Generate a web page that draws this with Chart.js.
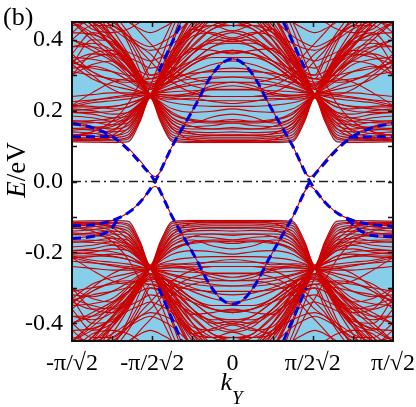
<!DOCTYPE html>
<html><head><meta charset="utf-8">
<script src="https://cdn.jsdelivr.net/npm/chart.js@4.4.1/dist/chart.umd.min.js"></script>
<style>html,body{margin:0;padding:0;background:#fff;overflow:hidden}</style>
</head><body><canvas id="c" width="416" height="407"></canvas>
<script>
// ---- axes ----
const xTickVals = [-4, -2, 0, 2, 4];
const xTickLabels = ['-π/√2', '-π/2√2', '0', 'π/2√2', 'π/√2'];
const xMinorVals = [-3, -2, -1, 0, 1, 2, 3];
const yTickVals = [-0.4, -0.2, 0, 0.2, 0.4];
const yTickLabels = ['-0.4', '-0.2', '0.0', '0.2', '0.4'];
const yMinorVals = [-0.4, -0.3, -0.2, -0.1, 0, 0.1, 0.2, 0.3, 0.4];

// ---- k grid for bulk bands (units: pi/(4*sqrt2)) ----
const kGrid = [-4,-3.5,-3,-2.6,-2.3,-2.05,-1.8,-1.5,-1,-0.5,0,0.5,1,1.5,1.8,2.05,2.3,2.6,3,3.5,4];

// ---- upper bulk bands (E in eV) ----
const up01 = [.112,.111,.110,.112,.170,.236,.170,.113,.110,.110,.110,.110,.110,.113,.170,.236,.170,.112,.110,.111,.112];
const up02 = [.125,.122,.118,.125,.180,.240,.180,.125,.118,.116,.116,.116,.118,.125,.180,.240,.180,.125,.118,.122,.125];
const up03 = [.140,.136,.130,.140,.190,.243,.190,.140,.128,.125,.125,.125,.128,.140,.190,.243,.190,.140,.130,.136,.140];
const up04 = [.160,.155,.148,.158,.200,.245,.200,.155,.140,.138,.140,.138,.140,.155,.200,.245,.200,.158,.148,.155,.160];
const up05 = [.185,.180,.170,.175,.210,.246,.210,.172,.155,.158,.165,.158,.155,.172,.210,.246,.210,.175,.170,.180,.185];
const up06 = [.205,.200,.190,.195,.222,.247,.215,.180,.165,.182,.190,.182,.165,.180,.215,.247,.222,.195,.190,.200,.205];
const up07 = [.215,.212,.205,.210,.230,.247,.235,.232,.235,.226,.220,.226,.235,.232,.235,.247,.230,.210,.205,.212,.215];
const up08 = [.210,.222,.228,.233,.240,.247,.245,.243,.241,.240,.240,.240,.241,.243,.245,.247,.240,.233,.228,.222,.210];
const up09 = [.215,.228,.238,.244,.247,.248,.250,.253,.256,.258,.258,.258,.256,.253,.250,.248,.247,.244,.238,.228,.215];
const up10 = [.60,.50,.41,.34,.285,.245,.20,.150,.118,.114,.113,.114,.118,.150,.20,.245,.285,.34,.41,.50,.60];
const up11 = [.52,.45,.38,.325,.28,.245,.205,.165,.135,.13,.13,.13,.135,.165,.205,.245,.28,.325,.38,.45,.52];
const up12 = [.45,.41,.36,.31,.275,.245,.215,.18,.155,.148,.148,.148,.155,.18,.215,.245,.275,.31,.36,.41,.45];
const up13 = [.40,.38,.345,.30,.27,.245,.22,.195,.172,.168,.17,.168,.172,.195,.22,.245,.27,.30,.345,.38,.40];
const up14 = [.35,.345,.33,.295,.265,.245,.225,.205,.195,.198,.205,.198,.195,.205,.225,.245,.265,.295,.33,.345,.35];
const up15 = [.32,.325,.31,.285,.262,.245,.232,.222,.215,.212,.212,.212,.215,.222,.232,.245,.262,.285,.31,.325,.32];
const up16 = [.118,.12,.13,.165,.205,.245,.29,.36,.47,.56,.59,.56,.47,.36,.29,.245,.205,.165,.13,.12,.118];
const up17 = [.132,.135,.145,.175,.21,.245,.285,.34,.43,.49,.51,.49,.43,.34,.285,.245,.21,.175,.145,.135,.132];
const up18 = [.15,.152,.16,.185,.215,.245,.28,.32,.385,.43,.44,.43,.385,.32,.28,.245,.215,.185,.16,.152,.15];
const up19 = [.17,.172,.178,.195,.22,.245,.272,.305,.36,.395,.405,.395,.36,.305,.272,.245,.22,.195,.178,.172,.17];
const up20 = [.195,.195,.198,.21,.228,.245,.265,.29,.33,.36,.37,.36,.33,.29,.265,.245,.228,.21,.198,.195,.195];
const up21 = [.21,.21,.212,.22,.232,.245,.26,.275,.30,.315,.32,.315,.30,.275,.26,.245,.232,.22,.212,.21,.21];
const up22 = [.65,.56,.47,.39,.31,.245,.31,.40,.55,.65,.68,.65,.55,.40,.31,.245,.31,.39,.47,.56,.65];
const up23 = [.55,.50,.43,.36,.30,.245,.30,.37,.47,.52,.53,.52,.47,.37,.30,.245,.30,.36,.43,.50,.55];
const up24 = [.47,.45,.40,.345,.29,.245,.295,.35,.43,.46,.46,.46,.43,.35,.295,.245,.29,.345,.40,.45,.47];
const up25 = [.42,.415,.385,.335,.285,.245,.29,.345,.43,.44,.425,.44,.43,.345,.29,.245,.285,.335,.385,.415,.42];
const up26 = [.38,.39,.37,.325,.28,.245,.285,.335,.41,.42,.405,.42,.41,.335,.285,.245,.28,.325,.37,.39,.38];
const up27 = [.34,.36,.355,.315,.275,.245,.28,.32,.375,.37,.36,.37,.375,.32,.28,.245,.275,.315,.355,.36,.34];
const up28 = [.36,.42,.40,.35,.295,.245,.30,.36,.45,.50,.50,.50,.45,.36,.30,.245,.295,.35,.40,.42,.36];
const up29 = [.33,.40,.395,.345,.29,.245,.295,.355,.44,.48,.49,.48,.44,.355,.295,.245,.29,.345,.395,.40,.33];
const up30 = [.225,.23,.235,.24,.243,.246,.255,.265,.28,.29,.295,.29,.28,.265,.255,.246,.243,.24,.235,.23,.225];
const up31 = [.33,.29,.27,.26,.252,.246,.24,.235,.23,.228,.228,.228,.23,.235,.24,.246,.252,.26,.27,.29,.33];
const up32 = [.215,.25,.28,.29,.275,.245,.22,.19,.17,.165,.165,.165,.17,.19,.22,.245,.275,.29,.28,.25,.215];
const up33 = [.45,.40,.35,.31,.28,.26,.27,.29,.33,.36,.37,.36,.33,.29,.27,.26,.28,.31,.35,.40,.45];
const up34 = [.50,.44,.38,.33,.295,.275,.28,.30,.34,.38,.39,.38,.34,.30,.28,.275,.295,.33,.38,.44,.50];
const up35 = [.40,.37,.34,.31,.29,.28,.29,.31,.36,.40,.42,.40,.36,.31,.29,.28,.29,.31,.34,.37,.40];
const up36 = [.38,.38,.36,.33,.31,.30,.31,.33,.38,.43,.45,.43,.38,.33,.31,.30,.31,.33,.36,.38,.38];
const up37 = [.33,.35,.36,.35,.335,.32,.325,.34,.37,.39,.39,.39,.37,.34,.325,.32,.335,.35,.36,.35,.33];
const up38 = [.56,.48,.40,.335,.285,.245,.27,.31,.40,.47,.50,.47,.40,.31,.27,.245,.285,.335,.40,.48,.56];
const up39 = [.48,.44,.385,.33,.283,.245,.265,.295,.36,.41,.425,.41,.36,.295,.265,.245,.283,.33,.385,.44,.48];
const up40 = [.30,.33,.34,.31,.275,.245,.262,.285,.33,.35,.35,.35,.33,.285,.262,.245,.275,.31,.34,.33,.30];
const up41 = [.12,.125,.14,.18,.22,.245,.30,.39,.52,.60,.62,.60,.52,.39,.30,.245,.22,.18,.14,.125,.12];
const up42 = [.145,.148,.155,.18,.213,.245,.275,.315,.37,.40,.395,.40,.37,.315,.275,.245,.213,.18,.155,.148,.145];
const up43 = [.165,.166,.17,.19,.218,.245,.282,.33,.40,.44,.455,.44,.40,.33,.282,.245,.218,.19,.17,.166,.165];
const up44 = [.30,.36,.37,.34,.30,.27,.28,.30,.34,.38,.40,.38,.34,.30,.28,.27,.30,.34,.37,.36,.30];
const up45 = [.40,.44,.44,.40,.34,.29,.30,.33,.40,.46,.48,.46,.40,.33,.30,.29,.34,.40,.44,.44,.40];
const up46 = [.42,.46,.45,.41,.355,.30,.305,.34,.42,.47,.50,.47,.42,.34,.305,.30,.355,.41,.45,.46,.42];
const up47 = [.118,.116,.115,.12,.175,.238,.175,.118,.113,.112,.112,.112,.113,.118,.175,.238,.175,.12,.115,.116,.118];
const up48 = [.132,.128,.124,.132,.185,.241,.185,.132,.123,.12,.12,.12,.123,.132,.185,.241,.185,.132,.124,.128,.132];
const up49 = [.15,.145,.14,.148,.195,.244,.195,.148,.134,.131,.132,.131,.134,.148,.195,.244,.195,.148,.14,.145,.15];
const up50 = [.172,.168,.16,.166,.205,.245,.205,.163,.148,.148,.152,.148,.148,.163,.205,.245,.205,.166,.16,.168,.172];
const up51 = [.195,.19,.18,.185,.215,.246,.22,.19,.175,.17,.175,.17,.175,.19,.22,.246,.215,.185,.18,.19,.195];
const up52 = [.50,.47,.41,.35,.295,.26,.30,.37,.46,.45,.44,.45,.46,.37,.30,.26,.295,.35,.41,.47,.50];
const up53 = [.46,.45,.41,.355,.30,.265,.30,.36,.43,.415,.40,.415,.43,.36,.30,.265,.30,.355,.41,.45,.46];
const up54 = [.2,.205,.21,.22,.232,.245,.24,.238,.245,.262,.27,.262,.245,.238,.24,.245,.232,.22,.21,.205,.2];
const up55 = [.34,.31,.285,.268,.255,.248,.245,.243,.25,.27,.28,.27,.25,.243,.245,.248,.255,.268,.285,.31,.34];
const up56 = [.45,.42,.39,.365,.35,.34,.35,.37,.42,.47,.49,.47,.42,.37,.35,.34,.35,.365,.39,.42,.45];
const up57 = [.50,.47,.44,.41,.39,.38,.39,.41,.46,.50,.52,.50,.46,.41,.39,.38,.39,.41,.44,.47,.50];
const up58 = [.55,.52,.48,.45,.43,.42,.43,.45,.50,.55,.58,.55,.50,.45,.43,.42,.43,.45,.48,.52,.55];
const up59 = [.115,.118,.125,.15,.20,.27,.34,.43,.55,.62,.64,.62,.55,.43,.34,.27,.20,.15,.125,.118,.115];
const up60 = [.13,.14,.17,.22,.28,.33,.38,.45,.55,.60,.62,.60,.55,.45,.38,.33,.28,.22,.17,.14,.13];
const up61 = [.62,.55,.48,.42,.37,.34,.31,.28,.25,.24,.24,.24,.25,.28,.31,.34,.37,.42,.48,.55,.62];
const up62 = [.58,.52,.46,.41,.38,.36,.33,.30,.27,.26,.26,.26,.27,.30,.33,.36,.38,.41,.46,.52,.58];
const up63 = [.68,.60,.52,.46,.42,.39,.36,.32,.29,.28,.28,.28,.29,.32,.36,.39,.42,.46,.52,.60,.68];
const up64 = [.36,.31,.285,.28,.285,.29,.30,.315,.34,.36,.365,.36,.34,.315,.30,.29,.285,.28,.285,.31,.36];
const up65 = [.345,.30,.26,.245,.25,.26,.27,.285,.31,.33,.34,.33,.31,.285,.27,.26,.25,.245,.26,.30,.345];
const up66 = [.48,.43,.42,.43,.45,.47,.50,.52,.55,.56,.56,.56,.55,.52,.50,.47,.45,.43,.42,.43,.48];
const up67 = [.44,.45,.43,.40,.38,.37,.375,.39,.42,.44,.44,.44,.42,.39,.375,.37,.38,.40,.43,.45,.44];
const up68 = [.31,.30,.29,.285,.28,.275,.275,.28,.29,.295,.295,.295,.29,.28,.275,.275,.28,.285,.29,.30,.31];
const up69 = [.335,.32,.31,.30,.295,.29,.29,.295,.305,.31,.31,.31,.305,.295,.29,.29,.295,.30,.31,.32,.335];
const up70 = [.24,.245,.25,.25,.249,.248,.252,.262,.272,.278,.28,.278,.272,.262,.252,.248,.249,.25,.25,.245,.24];

// ---- lower bulk bands (E in eV) ----
const dn01 = [-.112,-.111,-.110,-.112,-.170,-.236,-.170,-.113,-.110,-.110,-.110,-.110,-.110,-.113,-.170,-.236,-.170,-.112,-.110,-.111,-.112];
const dn02 = [-.125,-.122,-.118,-.125,-.180,-.240,-.180,-.125,-.118,-.116,-.116,-.116,-.118,-.125,-.180,-.240,-.180,-.125,-.118,-.122,-.125];
const dn03 = [-.140,-.136,-.130,-.140,-.190,-.243,-.190,-.140,-.128,-.125,-.125,-.125,-.128,-.140,-.190,-.243,-.190,-.140,-.130,-.136,-.140];
const dn04 = [-.160,-.155,-.148,-.158,-.200,-.245,-.200,-.155,-.140,-.138,-.140,-.138,-.140,-.155,-.200,-.245,-.200,-.158,-.148,-.155,-.160];
const dn05 = [-.185,-.180,-.170,-.175,-.210,-.246,-.210,-.172,-.155,-.158,-.165,-.158,-.155,-.172,-.210,-.246,-.210,-.175,-.170,-.180,-.185];
const dn06 = [-.205,-.200,-.190,-.195,-.222,-.247,-.215,-.180,-.165,-.182,-.190,-.182,-.165,-.180,-.215,-.247,-.222,-.195,-.190,-.200,-.205];
const dn07 = [-.215,-.212,-.205,-.210,-.230,-.247,-.235,-.232,-.235,-.226,-.220,-.226,-.235,-.232,-.235,-.247,-.230,-.210,-.205,-.212,-.215];
const dn08 = [-.210,-.222,-.228,-.233,-.240,-.247,-.245,-.243,-.241,-.240,-.240,-.240,-.241,-.243,-.245,-.247,-.240,-.233,-.228,-.222,-.210];
const dn09 = [-.215,-.228,-.238,-.244,-.247,-.248,-.250,-.253,-.256,-.258,-.258,-.258,-.256,-.253,-.250,-.248,-.247,-.244,-.238,-.228,-.215];
const dn10 = [-.60,-.50,-.41,-.34,-.285,-.245,-.20,-.150,-.118,-.114,-.113,-.114,-.118,-.150,-.20,-.245,-.285,-.34,-.41,-.50,-.60];
const dn11 = [-.52,-.45,-.38,-.325,-.28,-.245,-.205,-.165,-.135,-.13,-.13,-.13,-.135,-.165,-.205,-.245,-.28,-.325,-.38,-.45,-.52];
const dn12 = [-.45,-.41,-.36,-.31,-.275,-.245,-.215,-.18,-.155,-.148,-.148,-.148,-.155,-.18,-.215,-.245,-.275,-.31,-.36,-.41,-.45];
const dn13 = [-.40,-.38,-.345,-.30,-.27,-.245,-.22,-.195,-.172,-.168,-.17,-.168,-.172,-.195,-.22,-.245,-.27,-.30,-.345,-.38,-.40];
const dn14 = [-.35,-.345,-.33,-.295,-.265,-.245,-.225,-.205,-.195,-.198,-.205,-.198,-.195,-.205,-.225,-.245,-.265,-.295,-.33,-.345,-.35];
const dn15 = [-.32,-.325,-.31,-.285,-.262,-.245,-.232,-.222,-.215,-.212,-.212,-.212,-.215,-.222,-.232,-.245,-.262,-.285,-.31,-.325,-.32];
const dn16 = [-.118,-.12,-.13,-.165,-.205,-.245,-.29,-.36,-.47,-.56,-.59,-.56,-.47,-.36,-.29,-.245,-.205,-.165,-.13,-.12,-.118];
const dn17 = [-.132,-.135,-.145,-.175,-.21,-.245,-.285,-.34,-.43,-.49,-.51,-.49,-.43,-.34,-.285,-.245,-.21,-.175,-.145,-.135,-.132];
const dn18 = [-.15,-.152,-.16,-.185,-.215,-.245,-.28,-.32,-.385,-.43,-.44,-.43,-.385,-.32,-.28,-.245,-.215,-.185,-.16,-.152,-.15];
const dn19 = [-.17,-.172,-.178,-.195,-.22,-.245,-.272,-.305,-.36,-.395,-.405,-.395,-.36,-.305,-.272,-.245,-.22,-.195,-.178,-.172,-.17];
const dn20 = [-.195,-.195,-.198,-.21,-.228,-.245,-.265,-.29,-.33,-.36,-.37,-.36,-.33,-.29,-.265,-.245,-.228,-.21,-.198,-.195,-.195];
const dn21 = [-.21,-.21,-.212,-.22,-.232,-.245,-.26,-.275,-.30,-.315,-.32,-.315,-.30,-.275,-.26,-.245,-.232,-.22,-.212,-.21,-.21];
const dn22 = [-.65,-.56,-.47,-.39,-.31,-.245,-.31,-.40,-.55,-.65,-.68,-.65,-.55,-.40,-.31,-.245,-.31,-.39,-.47,-.56,-.65];
const dn23 = [-.55,-.50,-.43,-.36,-.30,-.245,-.30,-.37,-.47,-.52,-.53,-.52,-.47,-.37,-.30,-.245,-.30,-.36,-.43,-.50,-.55];
const dn24 = [-.47,-.45,-.40,-.345,-.29,-.245,-.295,-.35,-.43,-.46,-.46,-.46,-.43,-.35,-.295,-.245,-.29,-.345,-.40,-.45,-.47];
const dn25 = [-.42,-.415,-.385,-.335,-.285,-.245,-.29,-.345,-.43,-.44,-.425,-.44,-.43,-.345,-.29,-.245,-.285,-.335,-.385,-.415,-.42];
const dn26 = [-.38,-.39,-.37,-.325,-.28,-.245,-.285,-.335,-.41,-.42,-.405,-.42,-.41,-.335,-.285,-.245,-.28,-.325,-.37,-.39,-.38];
const dn27 = [-.34,-.36,-.355,-.315,-.275,-.245,-.28,-.32,-.375,-.37,-.36,-.37,-.375,-.32,-.28,-.245,-.275,-.315,-.355,-.36,-.34];
const dn28 = [-.36,-.42,-.40,-.35,-.295,-.245,-.30,-.36,-.45,-.50,-.50,-.50,-.45,-.36,-.30,-.245,-.295,-.35,-.40,-.42,-.36];
const dn29 = [-.33,-.40,-.395,-.345,-.29,-.245,-.295,-.355,-.44,-.48,-.49,-.48,-.44,-.355,-.295,-.245,-.29,-.345,-.395,-.40,-.33];
const dn30 = [-.225,-.23,-.235,-.24,-.243,-.246,-.255,-.265,-.28,-.29,-.295,-.29,-.28,-.265,-.255,-.246,-.243,-.24,-.235,-.23,-.225];
const dn31 = [-.33,-.29,-.27,-.26,-.252,-.246,-.24,-.235,-.23,-.228,-.228,-.228,-.23,-.235,-.24,-.246,-.252,-.26,-.27,-.29,-.33];
const dn32 = [-.215,-.25,-.28,-.29,-.275,-.245,-.22,-.19,-.17,-.165,-.165,-.165,-.17,-.19,-.22,-.245,-.275,-.29,-.28,-.25,-.215];
const dn33 = [-.45,-.40,-.35,-.31,-.28,-.26,-.27,-.29,-.33,-.36,-.37,-.36,-.33,-.29,-.27,-.26,-.28,-.31,-.35,-.40,-.45];
const dn34 = [-.50,-.44,-.38,-.33,-.295,-.275,-.28,-.30,-.34,-.38,-.39,-.38,-.34,-.30,-.28,-.275,-.295,-.33,-.38,-.44,-.50];
const dn35 = [-.40,-.37,-.34,-.31,-.29,-.28,-.29,-.31,-.36,-.40,-.42,-.40,-.36,-.31,-.29,-.28,-.29,-.31,-.34,-.37,-.40];
const dn36 = [-.38,-.38,-.36,-.33,-.31,-.30,-.31,-.33,-.38,-.43,-.45,-.43,-.38,-.33,-.31,-.30,-.31,-.33,-.36,-.38,-.38];
const dn37 = [-.33,-.35,-.36,-.35,-.335,-.32,-.325,-.34,-.37,-.39,-.39,-.39,-.37,-.34,-.325,-.32,-.335,-.35,-.36,-.35,-.33];
const dn38 = [-.56,-.48,-.40,-.335,-.285,-.245,-.27,-.31,-.40,-.47,-.50,-.47,-.40,-.31,-.27,-.245,-.285,-.335,-.40,-.48,-.56];
const dn39 = [-.48,-.44,-.385,-.33,-.283,-.245,-.265,-.295,-.36,-.41,-.425,-.41,-.36,-.295,-.265,-.245,-.283,-.33,-.385,-.44,-.48];
const dn40 = [-.30,-.33,-.34,-.31,-.275,-.245,-.262,-.285,-.33,-.35,-.35,-.35,-.33,-.285,-.262,-.245,-.275,-.31,-.34,-.33,-.30];
const dn41 = [-.12,-.125,-.14,-.18,-.22,-.245,-.30,-.39,-.52,-.60,-.62,-.60,-.52,-.39,-.30,-.245,-.22,-.18,-.14,-.125,-.12];
const dn42 = [-.145,-.148,-.155,-.18,-.213,-.245,-.275,-.315,-.37,-.40,-.395,-.40,-.37,-.315,-.275,-.245,-.213,-.18,-.155,-.148,-.145];
const dn43 = [-.165,-.166,-.17,-.19,-.218,-.245,-.282,-.33,-.40,-.44,-.455,-.44,-.40,-.33,-.282,-.245,-.218,-.19,-.17,-.166,-.165];
const dn44 = [-.30,-.36,-.37,-.34,-.30,-.27,-.28,-.30,-.34,-.38,-.40,-.38,-.34,-.30,-.28,-.27,-.30,-.34,-.37,-.36,-.30];
const dn45 = [-.40,-.44,-.44,-.40,-.34,-.29,-.30,-.33,-.40,-.46,-.48,-.46,-.40,-.33,-.30,-.29,-.34,-.40,-.44,-.44,-.40];
const dn46 = [-.42,-.46,-.45,-.41,-.355,-.30,-.305,-.34,-.42,-.47,-.50,-.47,-.42,-.34,-.305,-.30,-.355,-.41,-.45,-.46,-.42];
const dn47 = [-.118,-.116,-.115,-.12,-.175,-.238,-.175,-.118,-.113,-.112,-.112,-.112,-.113,-.118,-.175,-.238,-.175,-.12,-.115,-.116,-.118];
const dn48 = [-.132,-.128,-.124,-.132,-.185,-.241,-.185,-.132,-.123,-.12,-.12,-.12,-.123,-.132,-.185,-.241,-.185,-.132,-.124,-.128,-.132];
const dn49 = [-.15,-.145,-.14,-.148,-.195,-.244,-.195,-.148,-.134,-.131,-.132,-.131,-.134,-.148,-.195,-.244,-.195,-.148,-.14,-.145,-.15];
const dn50 = [-.172,-.168,-.16,-.166,-.205,-.245,-.205,-.163,-.148,-.148,-.152,-.148,-.148,-.163,-.205,-.245,-.205,-.166,-.16,-.168,-.172];
const dn51 = [-.195,-.19,-.18,-.185,-.215,-.246,-.22,-.19,-.175,-.17,-.175,-.17,-.175,-.19,-.22,-.246,-.215,-.185,-.18,-.19,-.195];
const dn52 = [-.50,-.47,-.41,-.35,-.295,-.26,-.30,-.37,-.46,-.45,-.44,-.45,-.46,-.37,-.30,-.26,-.295,-.35,-.41,-.47,-.50];
const dn53 = [-.46,-.45,-.41,-.355,-.30,-.265,-.30,-.36,-.43,-.415,-.40,-.415,-.43,-.36,-.30,-.265,-.30,-.355,-.41,-.45,-.46];
const dn54 = [-.2,-.205,-.21,-.22,-.232,-.245,-.24,-.238,-.245,-.262,-.27,-.262,-.245,-.238,-.24,-.245,-.232,-.22,-.21,-.205,-.2];
const dn55 = [-.34,-.31,-.285,-.268,-.255,-.248,-.245,-.243,-.25,-.27,-.28,-.27,-.25,-.243,-.245,-.248,-.255,-.268,-.285,-.31,-.34];
const dn56 = [-.45,-.42,-.39,-.365,-.35,-.34,-.35,-.37,-.42,-.47,-.49,-.47,-.42,-.37,-.35,-.34,-.35,-.365,-.39,-.42,-.45];
const dn57 = [-.50,-.47,-.44,-.41,-.39,-.38,-.39,-.41,-.46,-.50,-.52,-.50,-.46,-.41,-.39,-.38,-.39,-.41,-.44,-.47,-.50];
const dn58 = [-.55,-.52,-.48,-.45,-.43,-.42,-.43,-.45,-.50,-.55,-.58,-.55,-.50,-.45,-.43,-.42,-.43,-.45,-.48,-.52,-.55];
const dn59 = [-.115,-.118,-.125,-.15,-.20,-.27,-.34,-.43,-.55,-.62,-.64,-.62,-.55,-.43,-.34,-.27,-.20,-.15,-.125,-.118,-.115];
const dn60 = [-.13,-.14,-.17,-.22,-.28,-.33,-.38,-.45,-.55,-.60,-.62,-.60,-.55,-.45,-.38,-.33,-.28,-.22,-.17,-.14,-.13];
const dn61 = [-.62,-.55,-.48,-.42,-.37,-.34,-.31,-.28,-.25,-.24,-.24,-.24,-.25,-.28,-.31,-.34,-.37,-.42,-.48,-.55,-.62];
const dn62 = [-.58,-.52,-.46,-.41,-.38,-.36,-.33,-.30,-.27,-.26,-.26,-.26,-.27,-.30,-.33,-.36,-.38,-.41,-.46,-.52,-.58];
const dn63 = [-.68,-.60,-.52,-.46,-.42,-.39,-.36,-.32,-.29,-.28,-.28,-.28,-.29,-.32,-.36,-.39,-.42,-.46,-.52,-.60,-.68];
const dn64 = [-.36,-.31,-.285,-.28,-.285,-.29,-.30,-.315,-.34,-.36,-.365,-.36,-.34,-.315,-.30,-.29,-.285,-.28,-.285,-.31,-.36];
const dn65 = [-.345,-.30,-.26,-.245,-.25,-.26,-.27,-.285,-.31,-.33,-.34,-.33,-.31,-.285,-.27,-.26,-.25,-.245,-.26,-.30,-.345];
const dn66 = [-.48,-.43,-.42,-.43,-.45,-.47,-.50,-.52,-.55,-.56,-.56,-.56,-.55,-.52,-.50,-.47,-.45,-.43,-.42,-.43,-.48];
const dn67 = [-.44,-.45,-.43,-.40,-.38,-.37,-.375,-.39,-.42,-.44,-.44,-.44,-.42,-.39,-.375,-.37,-.38,-.40,-.43,-.45,-.44];
const dn68 = [-.31,-.30,-.29,-.285,-.28,-.275,-.275,-.28,-.29,-.295,-.295,-.295,-.29,-.28,-.275,-.275,-.28,-.285,-.29,-.30,-.31];
const dn69 = [-.335,-.32,-.31,-.30,-.295,-.29,-.29,-.295,-.305,-.31,-.31,-.31,-.305,-.295,-.29,-.29,-.295,-.30,-.31,-.32,-.335];
const dn70 = [-.24,-.245,-.25,-.25,-.249,-.248,-.252,-.262,-.272,-.278,-.28,-.278,-.272,-.262,-.252,-.248,-.249,-.25,-.25,-.245,-.24];

// ---- bulk continuum edges (light-blue regions) ----
const bulkUpperEdge = [.110,.109,.108,.110,.168,.234,.168,.111,.108,.108,.108,.108,.108,.111,.168,.234,.168,.110,.108,.109,.110];
const bulkLowerEdge = [-.110,-.109,-.108,-.110,-.168,-.234,-.168,-.111,-.108,-.108,-.108,-.108,-.108,-.111,-.168,-.234,-.168,-.110,-.108,-.109,-.110];

// ---- edge states ----
const kEdge = [-4,-3.5,-3,-2.6,-2.3,-1.93,-1.5,-1.2,-0.9,-0.6,-0.3,0,0.3,0.6,0.9,1.2,1.5,1.93,2.3,2.6,3,3.5,4];
const edgeA = [.164,.152,.127,.090,.052,0,-.10,-.16,-.22,-.285,-.33,-.346,-.33,-.285,-.22,-.16,-.10,0,.052,.090,.127,.152,.164];
const edgeB = [-.125,-.122,-.11,-.088,-.058,0,.10,.16,.22,.285,.33,.346,.33,.285,.22,.16,.10,0,-.058,-.088,-.11,-.122,-.126];
const redEdgeUp = [.168,.155,.13,.094,.058,.014,.10,.16,.22,.285,.33,.346,.33,.285,.22,.16,.10,.014,.058,.094,.13,.155,.168];
const redEdgeDn = [-.125,-.122,-.11,-.088,-.058,-.014,-.10,-.16,-.22,-.285,-.33,-.346,-.33,-.285,-.22,-.16,-.10,-.014,-.058,-.088,-.11,-.122,-.126];
const kSegUL = [-4,-3.5,-3.05];   const eSegUL = [.126,.126,.128];
const kSegUR = [2.9,3.5,4];       const eSegUR = [.124,.126,.126];
const kSegLL = [-4,-3.4,-3.05,-2.85]; const eSegLL = [-.161,-.153,-.136,-.105];
const kSegLR = [2.85,3.2,3.6,4];  const eSegLR = [-.105,-.14,-.154,-.155];
const kSteepUL = [-1.84,-1.27]; const eSteepUL = [.31,.45];
const kSteepUR = [1.27,1.84];   const eSteepUR = [.45,.31];
const kSteepLL = [-1.84,-1.27]; const eSteepLL = [-.30,-.45];
const kSteepLR = [1.27,1.84];   const eSteepLR = [-.45,-.30];
const kZero = [-4, 4]; const eZero = [0, 0];

// ---- styles ----
const RED = '#cc0000', BLUE = '#0000dd', SKY = '#87ceeb';
const SERIF = '"Liberation Serif", "Times New Roman", Times, serif';

function series(ks, es, color, width, dash, order, extra) {
  return Object.assign({
    data: ks.map((k, i) => ({x: k, y: es[i]})),
    borderColor: color, borderWidth: width, borderDash: dash || [],
    pointRadius: 0, fill: false, cubicInterpolationMode: 'monotone', order: order
  }, extra || {});
}

const upperBands = [up01,up02,up03,up04,up05,up06,up07,up08,up09,up10,up11,up12,up13,up14,up15,up16,up17,up18,up19,up20,
  up21,up22,up23,up24,up25,up26,up27,up28,up29,up30,up31,up32,up33,up34,up35,up36,up37,up38,up39,up40,
  up41,up42,up43,up44,up45,up46,up47,up48,up49,up50,up51,up52,up53,up54,up55,up56,up57,up58,up59,up60,
  up61,up62,up63,up64,up65,up66,up67,up68,up69,up70];
const lowerBands = [dn01,dn02,dn03,dn04,dn05,dn06,dn07,dn08,dn09,dn10,dn11,dn12,dn13,dn14,dn15,dn16,dn17,dn18,dn19,dn20,
  dn21,dn22,dn23,dn24,dn25,dn26,dn27,dn28,dn29,dn30,dn31,dn32,dn33,dn34,dn35,dn36,dn37,dn38,dn39,dn40,
  dn41,dn42,dn43,dn44,dn45,dn46,dn47,dn48,dn49,dn50,dn51,dn52,dn53,dn54,dn55,dn56,dn57,dn58,dn59,dn60,
  dn61,dn62,dn63,dn64,dn65,dn66,dn67,dn68,dn69,dn70];

const datasets = [];
datasets.push(series(kZero, eZero, '#222', 1.5, [9,4,2,4], 0, {cubicInterpolationMode: 'default'}));
const blueDash = [9, 5];
[[kEdge, edgeA], [kEdge, edgeB], [kSegUL, eSegUL], [kSegUR, eSegUR], [kSegLL, eSegLL], [kSegLR, eSegLR],
 [kSteepUL, eSteepUL], [kSteepUR, eSteepUR], [kSteepLL, eSteepLL], [kSteepLR, eSteepLR]]
  .forEach(p => datasets.push(series(p[0], p[1], BLUE, 3, blueDash, 1)));
datasets.push(series(kEdge, redEdgeUp, RED, 1.1, [], 2));
datasets.push(series(kEdge, redEdgeDn, RED, 1.1, [], 2));
upperBands.forEach(b => datasets.push(series(kGrid, b, RED, 1.1, [], 2)));
lowerBands.forEach(b => datasets.push(series(kGrid, b, RED, 1.1, [], 2)));
datasets.push(series(kGrid, bulkUpperEdge, 'rgba(0,0,0,0)', 0, [], 3, {fill: 'end', backgroundColor: SKY}));
datasets.push(series(kGrid, bulkLowerEdge, 'rgba(0,0,0,0)', 0, [], 3, {fill: 'start', backgroundColor: SKY}));

const decor = {
  id: 'decor',
  afterDraw(chart) {
    const ctx = chart.ctx, a = chart.chartArea, x = chart.scales.x, y = chart.scales.y;
    ctx.save();
    ctx.strokeStyle = '#111'; ctx.lineWidth = 1.5; ctx.setLineDash([]);
    xMinorVals.forEach(v => {
      const px = Math.round(x.getPixelForValue(v)) + 0.5;
      ctx.beginPath(); ctx.moveTo(px, a.bottom); ctx.lineTo(px, a.bottom - 5);
      ctx.moveTo(px, a.top); ctx.lineTo(px, a.top + 5); ctx.stroke();
    });
    yMinorVals.forEach(v => {
      const py = Math.round(y.getPixelForValue(v)) + 0.5;
      ctx.beginPath(); ctx.moveTo(a.left, py); ctx.lineTo(a.left + 5, py);
      ctx.moveTo(a.right, py); ctx.lineTo(a.right - 5, py); ctx.stroke();
    });
    ctx.lineWidth = 2;
    ctx.strokeRect(a.left, a.top, a.right - a.left, a.bottom - a.top);
    ctx.fillStyle = '#000';
    ctx.font = '26px ' + SERIF;
    ctx.textAlign = 'left'; ctx.textBaseline = 'alphabetic';
    ctx.fillText('(b)', 3, 25);
    ctx.save();
    ctx.translate(25, 170); ctx.rotate(-Math.PI / 2);
    ctx.font = 'italic 27px ' + SERIF;
    const wE = ctx.measureText('E').width;
    ctx.font = '27px ' + SERIF;
    const wR = ctx.measureText('/eV').width;
    const sx = -(wE + wR) / 2;
    ctx.font = 'italic 27px ' + SERIF; ctx.fillText('E', sx, 0);
    ctx.font = '27px ' + SERIF; ctx.fillText('/eV', sx + wE, 0);
    ctx.restore();
    ctx.font = 'italic 26px ' + SERIF;
    const wk = ctx.measureText('k').width;
    ctx.font = 'italic 19px ' + SERIF;
    const wY = ctx.measureText('Y').width;
    const cx = x.getPixelForValue(0) - (wk + wY) / 2 - 1;
    ctx.font = 'italic 26px ' + SERIF; ctx.fillText('k', cx, 390);
    ctx.font = 'italic 19px ' + SERIF; ctx.fillText('Y', cx + wk, 404);
    ctx.restore();
  }
};

const chart = new Chart(document.getElementById('c'), {
  type: 'line',
  data: {datasets},
  plugins: [decor],
  options: {
    responsive: false, animation: false, events: [],
    layout: {padding: {top: 22, right: 23, left: 0, bottom: 0}},
    plugins: {legend: {display: false}, tooltip: {enabled: false}},
    scales: {
      x: {
        type: 'linear', min: -4, max: 4,
        grid: {display: false, drawTicks: false}, border: {display: false},
        afterBuildTicks: s => { s.ticks = xTickVals.map(v => ({value: v})); },
        ticks: {autoSkip: false, maxRotation: 0, padding: 8, color: '#000',
                font: {family: SERIF, size: 24},
                callback: (v, i) => xTickLabels[i]},
        afterFit: s => { s.height = 66; s.paddingLeft = 0; s.paddingRight = 0; }
      },
      y: {
        type: 'linear', min: -0.45, max: 0.45,
        grid: {display: false, drawTicks: false}, border: {display: false},
        afterBuildTicks: s => { s.ticks = yTickVals.map(v => ({value: v})); },
        ticks: {autoSkip: false, padding: 9, color: '#000',
                font: {family: SERIF, size: 24},
                callback: (v, i) => yTickLabels[i]},
        afterFit: s => { s.width = 72; s.paddingTop = 0; s.paddingBottom = 0; }
      }
    }
  }
});
if (document.fonts && document.fonts.load) {
  Promise.all([document.fonts.load('24px "Liberation Serif"'), document.fonts.load('italic 24px "Liberation Serif"')])
    .then(() => chart.update()).catch(() => {});
}
</script></body></html>
